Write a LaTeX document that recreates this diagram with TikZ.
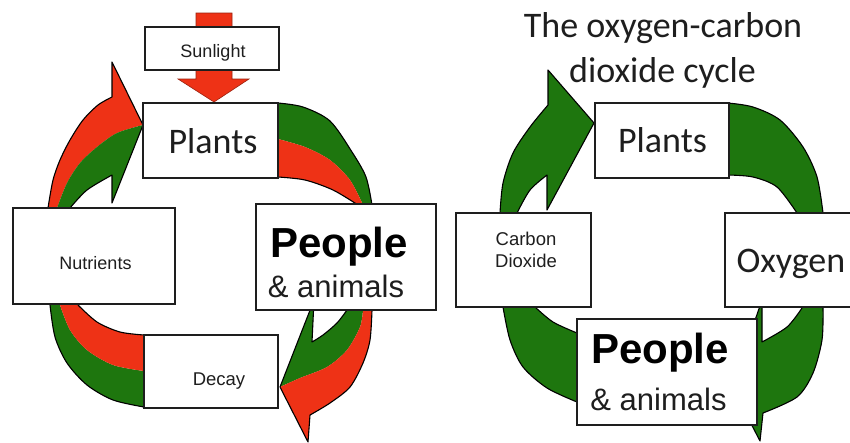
\documentclass[tikz,border=0pt]{standalone}
\usepackage{fontspec}
\setmainfont{Carlito}
\newfontfamily\arialf{Liberation Sans}
\definecolor{cred}{RGB}{238,50,22}
\definecolor{cgreen}{RGB}{30,118,14}
\definecolor{ink}{RGB}{30,30,30}
\begin{document}
\begin{tikzpicture}[x=1pt,y=-1pt,
  box/.style={draw=ink,line width=1.5pt,fill=white,inner sep=0pt},
  rim/.style={draw=black,line width=1.1pt,line join=round},
  lbl/.style={anchor=base,text=ink,inner sep=0pt},
  smallt/.style={lbl,font=\arialf\fontsize{18.5}{22}\selectfont},
  bigt/.style={lbl,font=\fontsize{36}{40}\selectfont},
  peoplet/.style={lbl,text=black,font=\arialf\bfseries\fontsize{42}{46}\selectfont},
  animt/.style={lbl,font=\arialf\fontsize{31}{35}\selectfont},
]
\useasboundingbox (0,0) rectangle (850,442);
\fill[white] (0,0) rectangle (850,442);

%% ---------- LEFT DIAGRAM: arrows ----------
% sunlight arrow
\fill[cred,draw=cred!65!black,line width=0.6pt] (196,13) -- (232,13) -- (232,79) -- (249,79) -- (214,102) -- (178,79) -- (196,79) -- cycle;

% top-right arc (Plants -> People)
\fill[cgreen] (270,103) -- plot[smooth] coordinates {(278,103) (303,107) (330,121) (352,152) (366,177) (372,205)} -- (372,212) -- (363,212)
  -- plot[smooth] coordinates {(363,205) (350,180) (330,160) (305,147) (278,139)} -- (270,139) -- cycle;
\fill[cred] (270,139) -- plot[smooth] coordinates {(278,139) (305,147) (330,160) (350,180) (363,205)} -- (363,212) -- (358,212)
  -- plot[smooth] coordinates {(358,205) (333,190) (305,180) (278,177)} -- (270,177) -- cycle;
\draw[rim] plot[smooth] coordinates {(278,103) (303,107) (330,121) (352,152) (366,177) (372,205)};
\draw[rim] plot[smooth] coordinates {(278,177) (305,180) (333,190) (358,205)};

% bottom-right arrow (People -> Decay)
\fill[cgreen] (280,387) -- (314,300) -- (312,342) -- plot[smooth] coordinates {(312,342) (323,335) (337,323) (347,310)} -- (347,300) -- (363,300)
  -- plot[smooth] coordinates {(363,310) (360,327) (347,350) (327,367) (300,378) (280,387)} -- cycle;
\fill[cred] (280,387) -- (308,442) -- (310,415) -- plot[smooth] coordinates {(310,415) (330,403) (350,387) (363,363) (370,340) (372,310)} -- (372,300) -- (363,300)
  -- plot[smooth] coordinates {(363,310) (360,327) (347,350) (327,367) (300,378) (280,387)} -- cycle;
\draw[rim] (372,300) -- plot[smooth] coordinates {(372,310) (370,340) (363,363) (350,387) (330,403) (310,415)} -- (308,442) -- (280,387) -- (314,300) -- (312,342)
  -- plot[smooth] coordinates {(312,342) (323,335) (337,323) (347,310)} -- (347,300);

% bottom-left arc (Nutrients -> Decay)
\fill[cgreen] (50,300) -- plot[smooth] coordinates {(50,305) (55,337) (67,363) (87,385) (113,400) (144,407)} -- (150,407) -- (150,371)
  -- plot[smooth] coordinates {(144,371) (113,365) (87,350) (70,330) (60,305)} -- (60,300) -- cycle;
\fill[cred] (60,300) -- plot[smooth] coordinates {(60,305) (70,330) (87,350) (113,365) (144,371)} -- (150,371) -- (150,335)
  -- plot[smooth] coordinates {(144,335) (120,332) (97,322) (78,305)} -- (78,300) -- cycle;
\draw[rim] plot[smooth] coordinates {(50,305) (55,337) (67,363) (87,385) (113,400) (144,407)};
\draw[rim] plot[smooth] coordinates {(144,335) (120,332) (97,322) (78,305)};

% top-left arrow (Nutrients -> Plants)
\fill[cred] (48,213) -- plot[smooth] coordinates {(48,208) (53,180) (60,160) (70,140) (83,120) (98,105) (112,97)} -- (112,62) -- (143,125)
  -- plot[smooth] coordinates {(143,125) (117,133) (97,147) (80,163) (67,183) (57,208)} -- (57,213) -- cycle;
\fill[cgreen] (143,125) -- (112,203) -- (112,175) -- plot[smooth] coordinates {(112,175) (87,190) (70,208)} -- (70,213) -- (57,213)
  -- plot[smooth] coordinates {(57,208) (67,183) (80,163) (97,147) (117,133) (143,125)} -- cycle;
\draw[rim] (48,213) -- plot[smooth] coordinates {(48,208) (53,180) (60,160) (70,140) (83,120) (98,105) (112,97)} -- (112,62) -- (143,125) -- (112,203) -- (112,175)
  -- plot[smooth] coordinates {(112,175) (87,190) (70,208)} -- (70,213);

%% ---------- RIGHT DIAGRAM: arrows ----------
% top-left arrow (Carbon Dioxide -> Plants)
\filldraw[fill=cgreen,rim] (500,216) -- plot[smooth] coordinates {(500,213) (503,183) (513,153) (530,127) (548,105)} -- (548,70) -- (594,123) -- (547,210) -- (547,175)
  -- plot[smooth] coordinates {(547,175) (530,190) (517,213)} -- (517,216) -- cycle;

% top-right arc (Plants -> Oxygen)
\fill[cgreen] (720,103) -- plot[smooth] coordinates {(728,103) (753,107) (780,120) (803,147) (817,177) (823,213)} -- (823,220) -- (797,220)
  -- plot[smooth] coordinates {(797,213) (777,187) (753,177) (728,175)} -- (720,175) -- cycle;
\draw[rim] plot[smooth] coordinates {(728,103) (753,107) (780,120) (803,147) (817,177) (823,213)};
\draw[rim] plot[smooth] coordinates {(797,213) (777,187) (753,177) (728,175)};

% bottom-right arrow (Oxygen -> People)
\filldraw[fill=cgreen,rim] (823,300) -- plot[smooth] coordinates {(823,308) (822,340) (813,373) (797,397) (763,413)} -- (760,441) -- (732,387) -- (762,300) -- (762,342)
  -- plot[smooth] coordinates {(762,342) (787,327) (802,308)} -- (802,300) -- cycle;

% bottom-left arc (Carbon Dioxide -> People)
\fill[cgreen] (503,300) -- plot[smooth] coordinates {(503,307) (510,340) (523,367) (547,388) (577,402)} -- (585,402) -- (585,333)
  -- plot[smooth] coordinates {(577,333) (553,322) (535,307)} -- (535,300) -- cycle;
\draw[rim] plot[smooth] coordinates {(503,307) (510,340) (523,367) (547,388) (577,402)};
\draw[rim] plot[smooth] coordinates {(577,333) (553,322) (535,307)};

%% ---------- boxes ----------
\node[box,minimum width=134pt,minimum height=43pt] (sun) at (212,48.5) {};
\node[box,minimum width=135pt,minimum height=75pt] (plantsL) at (210.5,140.5) {};
\node[box,minimum width=180pt,minimum height=106pt] (peopleL) at (346,257) {};
\node[box,minimum width=162pt,minimum height=96pt] (nutr) at (94,256) {};
\node[box,minimum width=134pt,minimum height=73pt] (decay) at (211,371.5) {};

\node[box,minimum width=134pt,minimum height=75pt] (plantsR) at (662,140.5) {};
\node[box,minimum width=135pt,minimum height=94pt] (co2) at (523.5,260) {};
\node[box,minimum width=145pt,minimum height=94pt] (oxy) at (797.5,260) {};
\node[box,minimum width=180pt,minimum height=106pt] (peopleR) at (667,372) {};

%% ---------- texts ----------
\node[lbl,font=\arialf\fontsize{18}{22}\selectfont] (tsun) at (213,57) {Sunlight};
\node[bigt] (tplantsL) at (213,153) {Plants};
\node[peoplet] (tpeopleL) at (339,257) {People};
\node[animt] (tanimL) at (336,297) {\& animals};
\node[lbl,font=\arialf\fontsize{18}{22}\selectfont] (tnutr) at (95.5,269) {Nutrients};
\node[smallt] (tdecay) at (219,385) {Decay};

\node[lbl,font=\fontsize{36}{40}\selectfont] (title1) at (663,37) {The oxygen-carbon};
\node[lbl,font=\fontsize{36}{40}\selectfont] (title2) at (662.5,82) {dioxide cycle};
\node[bigt] (tplantsR) at (662.5,152) {Plants};
\node[smallt] (tcarbon) at (526,245) {Carbon};
\node[smallt] (tdiox) at (526,267) {Dioxide};
\node[bigt] (toxy) at (791,272) {Oxygen};
\node[peoplet] (tpeopleR) at (660,363) {People};
\node[animt] (tanimR) at (658.5,410) {\& animals};
\end{tikzpicture}
\end{document}
